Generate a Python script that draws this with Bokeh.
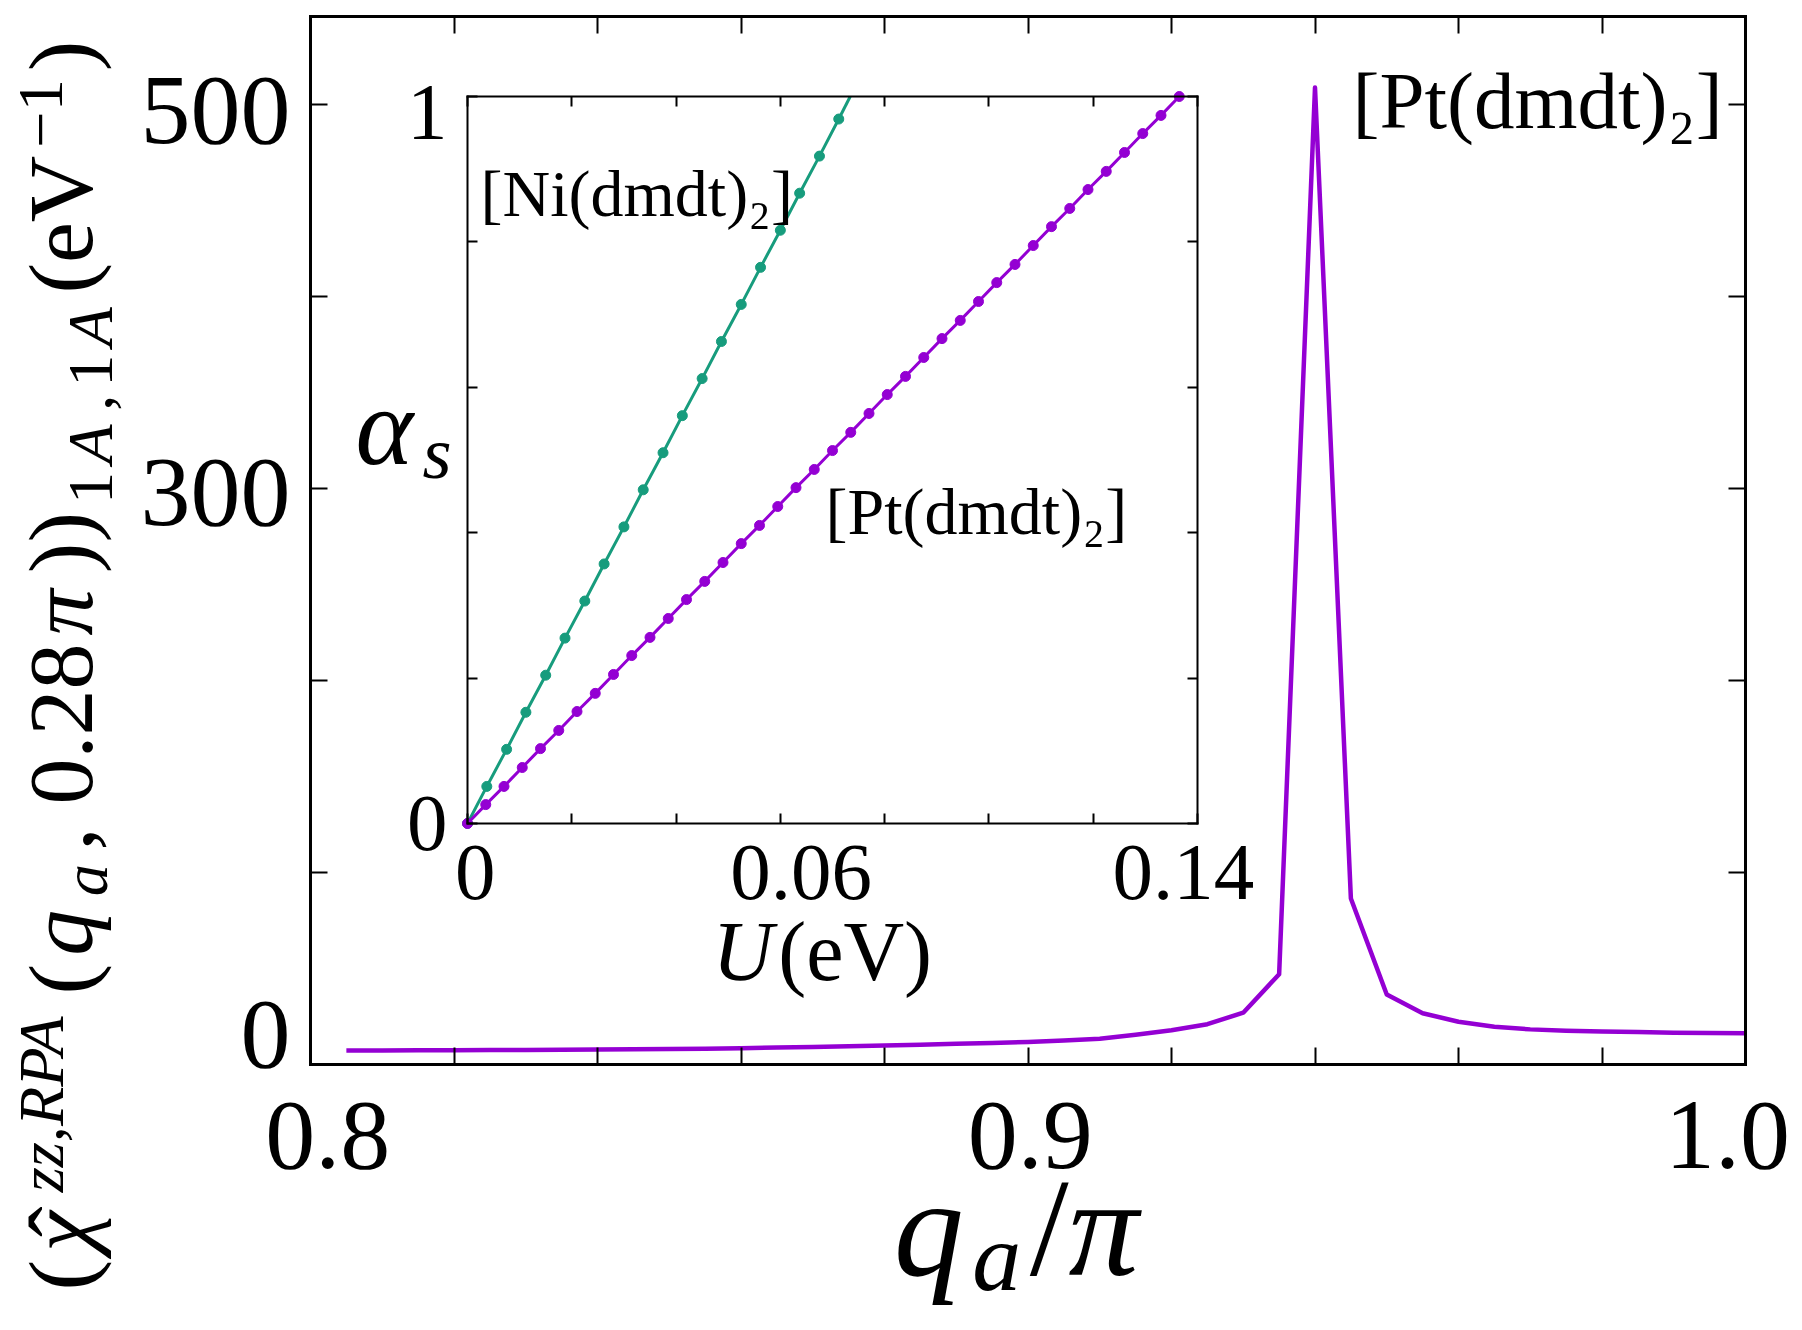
import math
from bokeh.plotting import figure
from bokeh.models import Range1d, FixedTicker, CustomJSTickFormatter, LinearAxis, Label
from bokeh.embed import file_html
from bokeh.resources import INLINE

# ---------------- data ----------------
Q_A = [0.805, 0.810, 0.815, 0.820, 0.825, 0.830, 0.835, 0.840, 0.845, 0.850,
       0.855, 0.860, 0.865, 0.870, 0.875, 0.880, 0.885, 0.890, 0.895, 0.900,
       0.905, 0.910, 0.915, 0.920, 0.925, 0.930, 0.935, 0.940, 0.945, 0.950,
       0.955, 0.960, 0.965, 0.970, 0.975, 0.980, 0.985, 0.990, 0.995, 1.000]
CHI_RPA = [7.3, 7.35, 7.4, 7.45, 7.5, 7.6, 7.7, 7.8, 7.9, 8.05,
           8.25, 8.5, 8.8, 9.1, 9.5, 9.9, 10.3, 10.8, 11.2, 11.7,
           12.5, 13.4, 15.5, 17.8, 21.0, 27.0, 47.0, 509.0, 86.5, 36.5,
           26.7, 22.3, 19.7, 18.3, 17.6, 17.2, 16.9, 16.6, 16.4, 16.3]

PT_U = [0.0000, 0.0035, 0.0070, 0.0105, 0.0140, 0.0175, 0.0210, 0.0245, 0.0280, 0.0315,
        0.0350, 0.0385, 0.0420, 0.0455, 0.0490, 0.0525, 0.0560, 0.0595, 0.0630, 0.0665,
        0.0700, 0.0735, 0.0770, 0.0805, 0.0840, 0.0875, 0.0910, 0.0945, 0.0980, 0.1015,
        0.1050, 0.1085, 0.1120, 0.1155, 0.1190, 0.1225, 0.1260, 0.1295, 0.1330, 0.1365]
PT_ALPHA = [0.000, 0.026, 0.051, 0.077, 0.103, 0.128, 0.154, 0.179, 0.205, 0.231,
            0.256, 0.282, 0.308, 0.333, 0.359, 0.385, 0.410, 0.436, 0.462, 0.487,
            0.513, 0.538, 0.564, 0.590, 0.615, 0.641, 0.667, 0.692, 0.718, 0.744,
            0.769, 0.795, 0.821, 0.846, 0.872, 0.897, 0.923, 0.949, 0.974, 1.000]
# Ni points (the last visible dot is at 0.969; the line leaves the inset at alpha = 1)
NI_U = [0.0000, 0.0037, 0.0075, 0.0112, 0.0150, 0.0187, 0.0225, 0.0262, 0.0300, 0.0337,
        0.0375, 0.0412, 0.0450, 0.0487, 0.0525, 0.0562, 0.0600, 0.0637, 0.0675, 0.0712]
NI_ALPHA = [0.000, 0.051, 0.102, 0.153, 0.204, 0.255, 0.306, 0.357, 0.408, 0.459,
            0.510, 0.561, 0.612, 0.663, 0.714, 0.765, 0.816, 0.867, 0.918, 0.969]
NI_EDGE_U = [0.0712, 0.0734]
NI_EDGE_ALPHA = [0.969, 1.000]

# tick marks
X_MINOR = [0.80, 0.82, 0.84, 0.86, 0.88, 0.90, 0.92, 0.94, 0.96, 0.98, 1.00]
Y_MINOR = [0, 100, 200, 300, 400, 500]
U_MINOR = [0, 0.02, 0.04, 0.06, 0.08, 0.10, 0.12, 0.14]
A_MINOR = [0, 0.2, 0.4, 0.6, 0.8, 1.0]
# tick labels, and where each one sits (as in the original, labels near the
# frame corners are nudged inwards)
X_TICK_LABELS = ["0.8", "0.9", "1.0"]
X_LABEL_AT = [0.8024, 0.9003, 0.9975]
Y_TICK_LABELS = ["0", "300", "500"]
Y_LABEL_AT = [15.7, 298, 497]
U_TICK_LABELS = ["0", "0.06", "0.14"]
U_LABEL_AT = [0.0015, 0.0640, 0.1373]
A_TICK_LABELS = ["0", "1"]
A_LABEL_AT = [0.0, 0.978]

X_LIM = (0.8, 1.0)
Y_LIM = (0, 546)
U_LIM = (0, 0.14)
A_LIM = (0, 1)

LABEL_PT = "[Pt(dmdt)₂]"
LABEL_NI = "[Ni(dmdt)₂]"

# ---------------- style / geometry ----------------
FONT = "Liberation Serif"
PURPLE = "#9400D3"
GREEN = "#179C7D"
W, H = 1802, 1330
# plot boxes in canvas pixels: left, right, bottom, top (y measured from the canvas bottom)
MAIN_BOX = (310, 1745, 266, 1314)
INSET_BOX = (467, 1197, 507, 1234)
BASE_FIX = 0.29   # Bokeh places an "alphabetic" label this many em below the anchor


def extend(lo, hi, p_lo, p_hi, total):
    s = (hi - lo) / (p_hi - p_lo)
    return lo - p_lo * s, hi + (total - p_hi) * s


W_REG = {' ': .25, '(': .333, ')': .333, '[': .333, ']': .333, ',': .25, '.': .25,
         '/': .278, '−': .564, 'a': .444, 'd': .5, 'e': .444, 'i': .278, 'm': .778,
         't': .278, 'A': .722, 'N': .722, 'P': .556, 'V': .722, 'U': .722, 'ˆ': .333}
W_IT = {'q': .5, 'a': .5, 'z': .389, 'R': .611, 'P': .611, 'A': .611, 'U': .722,
        's': .389, 'π': .53, 'α': .55, 'χ': .5, ',': .25}


def twidth(s, italic):
    tab = W_IT if italic else W_REG
    return sum(tab.get(c, 0.5) for c in s)


def piece_adv(pc, base):
    text, scale, shift, italic, dx, adv = pc
    if not adv:
        return 0.0
    return twidth(text, italic) * base * scale + (0.06 * base if italic else 0)


def rich_length(pieces, base, gap=0.0):
    n = sum(1 for pc in pieces if pc[5])
    return sum(piece_adv(pc, base) for pc in pieces) + gap * (n - 1)


def label(fig, x, y, text, size, italic=False, vertical=False):
    if vertical:
        x, ang = x - BASE_FIX * size, math.pi / 2
    else:
        y, ang = y + BASE_FIX * size, 0.0
    fig.add_layout(Label(x=x, y=y, x_units="screen", y_units="screen", text=text,
                         angle=ang, text_font=FONT,
                         text_font_style="italic" if italic else "normal",
                         text_font_size=f"{size:.1f}px", text_baseline="alphabetic",
                         text_align="left", text_color="black"))


def rich(fig, pieces, x0, y0, base, vertical=False, gap=0.0):
    adv = 0.0
    for pc in pieces:
        text, scale, shift, italic, dx, advances = pc
        size = base * scale
        off = shift * base
        a = adv + dx * base
        if vertical:
            label(fig, x0 - off, y0 + a, text, size, italic, True)
        else:
            label(fig, x0 + a, y0 + off, text, size, italic)
        if advances:
            adv += piece_adv(pc, base) + gap


def add_axis(fig, side, minor, label_at, labels, font_size, tick_len, lw, standoff,
             loc, bounds, xr="default", yr="default"):
    ax = LinearAxis(ticker=FixedTicker(ticks=label_at, minor_ticks=minor),
                    formatter=CustomJSTickFormatter(args=dict(labels=labels),
                                                    code="return labels[index];"),
                    fixed_location=loc, bounds=bounds,
                    x_range_name=xr, y_range_name=yr)
    ax.axis_line_width = lw
    ax.axis_line_color = "black"
    ax.axis_line_cap = "square"
    ax.major_tick_line_color = None      # tick marks come from the minor ticks
    ax.minor_tick_in = tick_len
    ax.minor_tick_out = 0
    ax.minor_tick_line_width = 2
    ax.minor_tick_line_color = "black"
    ax.major_tick_in = 0
    ax.major_tick_out = 0
    ax.major_label_text_font = FONT
    ax.major_label_text_color = "black"
    ax.major_label_text_font_size = font_size
    ax.major_label_standoff = standoff
    fig.add_layout(ax, side)
    return ax


mx0, mx1 = extend(X_LIM[0], X_LIM[1], MAIN_BOX[0], MAIN_BOX[1], W)
my0, my1 = extend(Y_LIM[0], Y_LIM[1], MAIN_BOX[2], MAIN_BOX[3], H)
ux0, ux1 = extend(U_LIM[0], U_LIM[1], INSET_BOX[0], INSET_BOX[1], W)
ay0, ay1 = extend(A_LIM[0], A_LIM[1], INSET_BOX[2], INSET_BOX[3], H)

p = figure(width=W, height=H, x_range=Range1d(mx0, mx1), y_range=Range1d(my0, my1),
           output_backend="svg", toolbar_location=None,
           x_axis_location=None, y_axis_location=None, min_border=0)
p.extra_x_ranges = {"U": Range1d(ux0, ux1)}
p.extra_y_ranges = {"A": Range1d(ay0, ay1)}
p.grid.visible = False
p.outline_line_color = None
p.background_fill_color = "white"
p.border_fill_color = "white"

# main axes (frame of the big plot)
add_axis(p, "below", X_MINOR, X_LABEL_AT, X_TICK_LABELS, "100px", 17, 3, 38, Y_LIM[0], X_LIM)
add_axis(p, "left", Y_MINOR, Y_LABEL_AT, Y_TICK_LABELS, "100px", 17, 3, 20, X_LIM[0], Y_LIM)
add_axis(p, "above", X_MINOR, [], [], "100px", 17, 3, 0, Y_LIM[1], X_LIM)
add_axis(p, "right", Y_MINOR, [], [], "100px", 17, 3, 0, X_LIM[1], Y_LIM)

# inset axes
add_axis(p, "below", U_MINOR, U_LABEL_AT, U_TICK_LABELS, "81px", 10, 2, 22, A_LIM[0], U_LIM, "U", "A")
add_axis(p, "left", A_MINOR, A_LABEL_AT, A_TICK_LABELS, "81px", 10, 2, 20, U_LIM[0], A_LIM, "U", "A")
add_axis(p, "above", U_MINOR, [], [], "81px", 10, 2, 0, A_LIM[1], U_LIM, "U", "A")
add_axis(p, "right", A_MINOR, [], [], "81px", 10, 2, 0, U_LIM[1], A_LIM, "U", "A")

# main curve
p.line(Q_A, CHI_RPA, line_color=PURPLE, line_width=4.5, line_join="round")

# inset curves
p.line(NI_U, NI_ALPHA, line_color=GREEN, line_width=3, x_range_name="U", y_range_name="A")
p.line(NI_EDGE_U, NI_EDGE_ALPHA, line_color=GREEN, line_width=3, x_range_name="U", y_range_name="A")
p.scatter(NI_U, NI_ALPHA, size=10, fill_color=GREEN, line_color=GREEN, x_range_name="U", y_range_name="A")
p.line(PT_U, PT_ALPHA, line_color=PURPLE, line_width=3, x_range_name="U", y_range_name="A")
p.scatter(PT_U, PT_ALPHA, size=10, fill_color=PURPLE, line_color=PURPLE, x_range_name="U", y_range_name="A")

# ---------------- texts (canvas pixels, y from the bottom) ----------------
label(p, 1352, H - 124, LABEL_PT, 81)
label(p, 480, H - 212, LABEL_NI, 66)
label(p, 825, H - 530, LABEL_PT, 66)

rich(p, [("α", 1.0, 0.0, True, 0, True), ("s", 0.68, -0.14, True, 0, True)], 355, H - 458, 110)
rich(p, [("U", 1.0, 0.0, True, 0, True), ("(eV)", 1.0, 0.0, False, 0, True)], 712, H - 975, 84)

XL = [("q", 1.0, 0.0, True, 0, True), ("a", 0.7, -0.12, True, 0, True),
      ("/", 1.0, 0.0, False, 0, True), ("π", 1.0, 0.0, True, 0, True)]
xb = 140
rich(p, XL, 1022 - rich_length(XL, xb) / 2, H - 1268, xb)

YL = [("(", 1.0, 0.0, False, 0, True),
      ("ˆ", 1.0, 0.0, False, 0.16, False),
      ("χ", 1.0, 0.0, True, 0, True),
      ("zz,RPA", 0.7, 0.30, True, 0, True),
      ("(", 1.0, 0.0, False, 0, True), ("q", 1.0, 0.0, True, 0, True),
      ("a", 0.7, -0.18, True, 0, True),
      (", 0.28", 1.0, 0.0, False, 0, True), ("π", 1.0, 0.0, True, 0, True),
      ("))", 1.0, 0.0, False, 0, True),
      ("1", 0.7, -0.24, False, 0, True), ("A", 0.7, -0.24, True, 0, True),
      (",", 0.7, -0.24, False, 0, True), ("1", 0.7, -0.24, False, 0, True),
      ("A", 0.7, -0.24, True, 0, True),
      ("(eV", 1.0, 0.0, False, 0, True), ("−1", 0.7, 0.30, False, 0, True),
      (")", 1.0, 0.0, False, 0, True)]
yb = 92
YL_LEN = 1250
n_adv = sum(1 for pc in YL if pc[5])
y_gap = max(0.0, (YL_LEN - rich_length(YL, yb)) / (n_adv - 1))
rich(p, YL, 87, 665 - rich_length(YL, yb, y_gap) / 2, yb, vertical=True, gap=y_gap)

open("out.html", "w").write(file_html(p, INLINE))
